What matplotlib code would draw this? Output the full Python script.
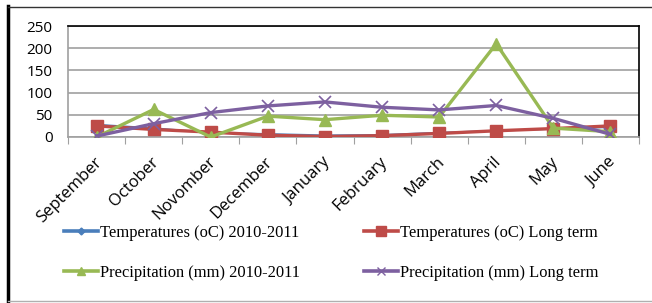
import matplotlib
matplotlib.use("Agg")
import matplotlib.pyplot as plt
from matplotlib.lines import Line2D
import matplotlib.transforms as mtransforms

months = ["September", "October", "Novomber", "December", "January",
          "February", "March", "April", "May", "June"]
temp_2010 = [28, 20, 10, 7, 4, 5, 10, 14, 18, 22]
temp_long = [25, 17, 11, 4, 1, 3, 8, 14, 19, 25]
prec_2010 = [0, 62, 0, 47, 39, 49, 45, 210, 20, 12]
prec_long = [2, 30, 55, 70, 79, 67, 61, 71, 42, 6]
yticks = [0, 50, 100, 150, 200, 250]

labels = ["Temperatures (oC) 2010-2011", "Temperatures (oC) Long term",
          "Precipitation (mm) 2010-2011", "Precipitation (mm) Long term"]
colors = ["#4a7ebb", "#be4b48", "#98b954", "#7d60a0"]

fig = plt.figure(figsize=(6.52, 3.03), dpi=100)
ax = fig.add_axes([68/652, 1-137/303, (639-68)/652, (137-26)/303])

x = list(range(len(months)))
ax.plot(x, temp_2010, color=colors[0], lw=1.2, marker="D", ms=3.5, zorder=3)
ax.plot(x, temp_long, color=colors[1], lw=2.4, marker="s", ms=8, zorder=4)
ax.plot(x, prec_2010, color=colors[2], lw=2.4, marker="^", ms=8, zorder=5)
ax.plot(x, prec_long, color=colors[3], lw=2.4, marker="x", ms=8, mew=1.2, zorder=6)

ax.set_xlim(-0.5, len(months) - 0.5)
ax.set_ylim(0, 250)
ax.set_yticks(yticks)
ax.yaxis.grid(True, color="#a0a0a0", lw=1.2)
ax.set_axisbelow(True)
ax.tick_params(axis="y", length=0, labelsize=11, pad=11)
ax.set_yticklabels([str(v) for v in yticks], fontfamily="Open Sans")

ax.set_xticks([i - 0.5 for i in range(len(months) + 1)], minor=False)
ax.set_xticklabels([])
ax.tick_params(axis="x", which="major", length=5, color="#a0a0a0", direction="out")
ax.set_xticks(x, minor=True)
ax.set_xticklabels(months, minor=True, rotation=45, ha="right", va="top",
                   rotation_mode="anchor", fontsize=12, fontfamily="Open Sans")
ax.tick_params(axis="x", which="minor", length=0, pad=0)
offset = mtransforms.ScaledTranslation(-3/100, -17/100, fig.dpi_scale_trans)
for lab in ax.xaxis.get_minorticklabels():
    lab.set_transform(lab.get_transform() + offset)

for s in ["left", "bottom"]:
    ax.spines[s].set_color("#a0a0a0")
    ax.spines[s].set_linewidth(1.2)
for s in ["top", "right"]:
    ax.spines[s].set_color("black")
    ax.spines[s].set_linewidth(1.2)

handles = [
    Line2D([], [], color=colors[0], lw=2.6, marker="D", ms=3.5),
    Line2D([], [], color=colors[1], lw=2.6, marker="s", ms=7),
    Line2D([], [], color=colors[2], lw=2.6, marker="^", ms=6),
    Line2D([], [], color=colors[3], lw=2.6, marker="x", ms=6, mew=1.0),
]
order = [0, 2, 1, 3]
fig.legend([handles[i] for i in order], [labels[i] for i in order], ncol=2,
           loc="center", bbox_to_anchor=(331/652, 1-253/303),
           frameon=False, prop={"family": "Liberation Serif", "size": 11.9},
           handlelength=2.05, handletextpad=0.1, columnspacing=3.9, labelspacing=1.45)

# outer frame
fig.add_artist(Line2D([8/652, 8/652], [0, 1-6/303], transform=fig.transFigure,
                      color="black", lw=2.5))
fig.add_artist(Line2D([8/652, 1], [1-7/303, 1-7/303], transform=fig.transFigure,
                      color="#333333", lw=1.0))
fig.add_artist(Line2D([8/652, 1], [1-301/303, 1-301/303], transform=fig.transFigure,
                      color="#b0b0b0", lw=1.0))

fig.savefig("out.png", dpi=100)
